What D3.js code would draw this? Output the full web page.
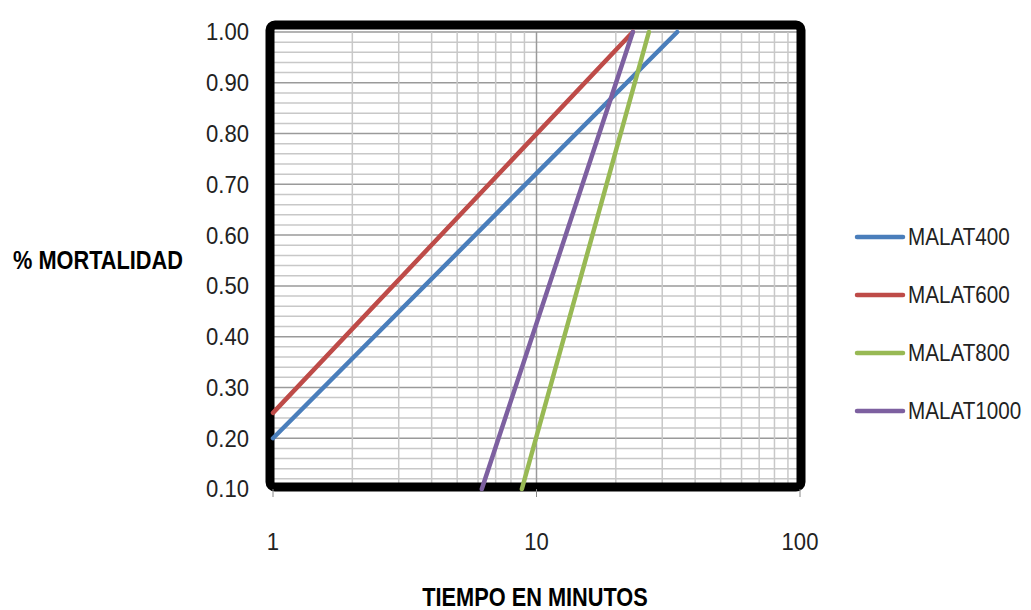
<!DOCTYPE html>
<html>
<head>
<meta charset="utf-8">
<script src="https://cdn.jsdelivr.net/npm/d3@7"></script>
<style>
  body { margin: 0; background: #fff; }
  text { font-family: "Liberation Sans", Arial, sans-serif; }
</style>
</head>
<body>
<script>
// series: time in minutes (x) vs mortality fraction (y)
var seriesNames = ["MALAT400", "MALAT600", "MALAT800", "MALAT1000"];
var seriesColors = ["#4a7ebb", "#be4b48", "#98b954", "#7d60a0"];
var malat400 = [[1, 0.20], [34.2, 1.00]];
var malat600 = [[1, 0.25], [23.2, 1.00]];
var malat800 = [[8.8, 0.10], [26.7, 1.00]];
var malat1000 = [[6.2, 0.10], [23.2, 1.00]];
var allSeries = [malat400, malat600, malat800, malat1000];

var yTicks = [0.10, 0.20, 0.30, 0.40, 0.50, 0.60, 0.70, 0.80, 0.90, 1.00];
var xTicks = [1, 10, 100];

var svg = d3.select("body").append("svg")
            .attr("width", 1031)
            .attr("height", 610);

var x = d3.scaleLog().domain([1, 100]).range([273, 800]);
var y = d3.scaleLinear().domain([0.10, 1.00]).range([489, 32]);

// squeezed text, the original font is a narrow one
function narrowText(parent, tx, ty, sx) {
  return parent.append("g")
               .attr("transform", "translate(" + tx + "," + ty + ") scale(" + sx + ",1)")
               .append("text");
}

// horizontal grid every 0.02
var hGrid = d3.range(0, 46).map(function(i) { return +(0.10 + i * 0.02).toFixed(2); });
svg.append("g").selectAll("line")
   .data(hGrid)
   .enter().append("line")
   .attr("x1", x(1)).attr("x2", x(100))
   .attr("y1", function(d) { return y(d); })
   .attr("y2", function(d) { return y(d); })
   .style("stroke", function(d, i) { return i % 5 == 0 ? "#9a9a9a" : "#c8c8c8"; })
   .style("stroke-width", 1.5);

// vertical log grid
var vGrid = [];
[1, 10].forEach(function(dec) {
  for (var k = 1; k <= 9; k++) vGrid.push(dec * k);
});
vGrid.push(100);
svg.append("g").selectAll("line")
   .data(vGrid)
   .enter().append("line")
   .attr("x1", function(d) { return x(d); })
   .attr("x2", function(d) { return x(d); })
   .attr("y1", y(1.00)).attr("y2", y(0.10))
   .style("stroke", function(d) { return (d == 1 || d == 10 || d == 100) ? "#9a9a9a" : "#c8c8c8"; })
   .style("stroke-width", 1.5);

// thick frame round the plot area
svg.append("rect")
   .attr("x", 270).attr("y", 25)
   .attr("width", 531).attr("height", 462)
   .attr("rx", 5)
   .style("fill", "none")
   .style("stroke", "#000")
   .style("stroke-width", 9);

// x axis small ticks below
svg.append("g").selectAll("line")
   .data(xTicks)
   .enter().append("line")
   .attr("x1", function(d) { return x(d); })
   .attr("x2", function(d) { return x(d); })
   .attr("y1", 489).attr("y2", 497)
   .style("stroke", "#888")
   .style("stroke-width", 1);

// lines
var line = d3.line()
             .x(function(d) { return x(d[0]); })
             .y(function(d) { return y(d[1]); });

svg.append("g").selectAll("path")
   .data(allSeries)
   .enter().append("path")
   .attr("d", line)
   .style("fill", "none")
   .style("stroke", function(d, i) { return seriesColors[i]; })
   .style("stroke-width", 4.5)
   .style("stroke-linecap", "round");

// y tick labels
yTicks.forEach(function(d) {
  narrowText(svg, 249, y(d), 0.92)
    .attr("dy", "0.35em")
    .attr("text-anchor", "end")
    .style("font-size", "24px")
    .style("fill", "#222")
    .text(d.toFixed(2));
});

// x tick labels
xTicks.forEach(function(d) {
  narrowText(svg, x(d), 550, 0.92)
    .attr("text-anchor", "middle")
    .style("font-size", "24px")
    .style("fill", "#222")
    .text(d);
});

// axis titles
narrowText(svg, 98, 269, 0.87)
  .attr("text-anchor", "middle")
  .style("font-size", "25px")
  .style("font-weight", "bold")
  .text("% MORTALIDAD");

narrowText(svg, 535, 606, 0.87)
  .attr("text-anchor", "middle")
  .style("font-size", "25px")
  .style("font-weight", "bold")
  .text("TIEMPO EN MINUTOS");

// legend
seriesNames.forEach(function(name, i) {
  var ly = 237 + i * 58;
  svg.append("line")
     .attr("x1", 857).attr("x2", 903)
     .attr("y1", ly).attr("y2", ly)
     .style("stroke", seriesColors[i])
     .style("stroke-width", 4.5)
     .style("stroke-linecap", "round");
  narrowText(svg, 908, ly, 0.86)
    .attr("dy", "0.35em")
    .style("font-size", "24px")
    .style("fill", "#222")
    .text(name);
});
</script>
</body>
</html>
